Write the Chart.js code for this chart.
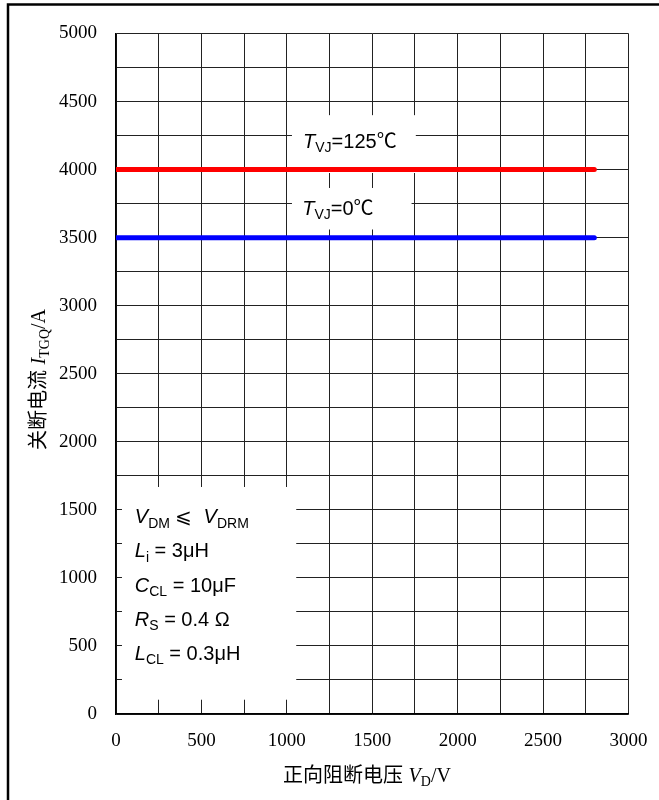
<!DOCTYPE html>
<html>
<head>
<meta charset="utf-8">
<script src="https://cdn.jsdelivr.net/npm/chart.js@4.4.1/dist/chart.umd.min.js"></script>
<style>
  html, body { margin: 0; padding: 0; background: #fff; }
  #wrap { width: 659px; height: 800px; position: relative; }
</style>
</head>
<body>
<div id="wrap"><canvas id="chart" width="659" height="800"></canvas></div>
<script>
// data
const voltage = [0, 2800];
const current125 = [4000, 4000];
const current0 = [3500, 3500];
const xTickLabels = ['0', '500', '1000', '1500', '2000', '2500', '3000'];
const yTickLabels = ['0', '500', '1000', '1500', '2000', '2500', '3000', '3500', '4000', '4500', '5000'];

const SANS = '"Liberation Sans", Arial, "Noto Sans CJK SC", sans-serif';
const SERIF = '"Liberation Serif", "Times New Roman", serif';
const CJK = '"Noto Sans CJK SC", sans-serif';

// text runs: t = text, i = italic, s = subscript, f = family
function drawRuns(ctx, x, y, runs, size) {
	runs.forEach(function(r) {
		const fs = r.s ? Math.round(size * 0.68) : size;
		ctx.font = (r.i ? 'italic ' : '') + fs + 'px ' + (r.f || SANS);
		ctx.fillText(r.t, x, y + (r.s ? size * 0.22 : 0));
		x += ctx.measureText(r.t).width;
	});
}

// white label boxes, in data units
const boxes = [
	{x0: 1030, x1: 1755, y0: 3975, y1: 4400,
		lines: [[{t: 'T', i: true}, {t: 'VJ', s: true}, {t: '=125'}, {t: '℃', f: CJK}]], tx: 1095, ty: [4162]},
	{x0: 1030, x1: 1730, y0: 3560, y1: 3865,
		lines: [[{t: 'T', i: true}, {t: 'VJ', s: true}, {t: '=0'}, {t: '℃', f: CJK}]], tx: 1090, ty: [3668]},
	{x0: 35, x1: 1055, y0: 105, y1: 1668,
		lines: [
			[{t: 'V', i: true}, {t: 'DM', s: true}, {t: ' ⩽  '}, {t: 'V', i: true}, {t: 'DRM', s: true}],
			[{t: 'L', i: true}, {t: 'i', s: true}, {t: ' = 3μH'}],
			[{t: 'C', i: true}, {t: 'CL', s: true}, {t: ' = 10μF'}],
			[{t: 'R', i: true}, {t: 'S', s: true}, {t: ' = 0.4 Ω'}],
			[{t: 'L', i: true}, {t: 'CL', s: true}, {t: ' = 0.3μH'}]
		], tx: 110, ty: [1400, 1150, 900, 650, 400]}
];

const boxPlugin = {
	id: 'boxes',
	beforeDatasetsDraw(chart) {
		const ctx = chart.ctx;
		const xs = chart.scales.x, ys = chart.scales.y;
		ctx.save();
		boxes.forEach(function(b) {
			const l = xs.getPixelForValue(b.x0), r = xs.getPixelForValue(b.x1);
			const t = ys.getPixelForValue(b.y1), btm = ys.getPixelForValue(b.y0);
			ctx.fillStyle = '#fff';
			ctx.fillRect(l, t, r - l, btm - t);
			ctx.fillStyle = '#000';
			ctx.textBaseline = 'alphabetic';
			b.lines.forEach(function(line, k) {
				drawRuns(ctx, xs.getPixelForValue(b.tx), ys.getPixelForValue(b.ty[k]), line, 20);
			});
		});
		ctx.restore();
	}
};

const framePlugin = {
	id: 'frame',
	beforeDraw(chart) {
		const ctx = chart.ctx;
		ctx.save();
		ctx.fillStyle = '#fff';
		ctx.fillRect(0, 0, chart.width, chart.height);
		ctx.restore();
	},
	afterDraw(chart) {
		const ctx = chart.ctx;
		ctx.save();
		// outer frame (only top and left edges fall inside the picture)
		ctx.strokeStyle = '#000';
		ctx.lineWidth = 2.5;
		ctx.strokeRect(8, 4.5, 800, 900);
		// axis titles
		ctx.fillStyle = '#000';
		ctx.textBaseline = 'alphabetic';
		drawRuns(ctx, 283, 782, [
			{t: '正向阻断电压', f: CJK}, {t: ' '}, {t: 'V', i: true, f: SERIF}, {t: 'D', s: true, f: SERIF}, {t: '/V', f: SERIF}
		], 20);
		ctx.translate(45, 450);
		ctx.rotate(-Math.PI / 2);
		drawRuns(ctx, 0, 0, [
			{t: '关断电流', f: CJK}, {t: ' '}, {t: 'I', i: true, f: SERIF}, {t: 'TGQ', s: true, f: SERIF}, {t: '/A', f: SERIF}
		], 20);
		ctx.restore();
	}
};

const gridOpts = {color: '#222', lineWidth: 1, drawTicks: false};
const borderOpts = {color: '#000', width: 1.5};

new Chart(document.getElementById('chart'), {
	type: 'line',
	data: {
		datasets: [
			{
				label: 'TVJ=125',
				data: voltage.map((v, i) => ({x: v, y: current125[i]})),
				borderColor: '#ff0000',
				borderWidth: 5,
				borderCapStyle: 'round',
				pointRadius: 0,
				fill: false
			},
			{
				label: 'TVJ=0',
				data: voltage.map((v, i) => ({x: v, y: current0[i]})),
				borderColor: '#0000ff',
				borderWidth: 5,
				borderCapStyle: 'round',
				pointRadius: 0,
				fill: false
			}
		]
	},
	options: {
		responsive: false,
		animation: false,
		devicePixelRatio: 1,
		layout: {padding: {left: 0, top: 33.5, right: 30.5, bottom: 0}},
		plugins: {legend: {display: false}, tooltip: {enabled: false}},
		scales: {
			x: {
				type: 'linear',
				min: 0,
				max: 3000,
				grid: gridOpts,
				border: borderOpts,
				afterFit(scale) {
					scale.height = 86;
					scale.paddingLeft = 0;
					scale.paddingRight = 0;
				},
				ticks: {
					stepSize: 250,
					autoSkip: false,
					maxRotation: 0,
					padding: 16,
					color: '#000',
					font: {family: SERIF, size: 19},
					callback: v => (v % 500 === 0 ? xTickLabels[v / 500] : '')
				}
			},
			y: {
				min: 0,
				max: 5000,
				grid: gridOpts,
				border: borderOpts,
				afterFit(scale) {
					scale.width = 116;
					scale.paddingTop = 0;
					scale.paddingBottom = 0;
				},
				ticks: {
					stepSize: 250,
					autoSkip: false,
					padding: 19,
					color: '#000',
					font: {family: SERIF, size: 19},
					callback: v => (v % 500 === 0 ? yTickLabels[v / 500] : '')
				}
			}
		}
	},
	plugins: [framePlugin, boxPlugin]
});
</script>
</body>
</html>
